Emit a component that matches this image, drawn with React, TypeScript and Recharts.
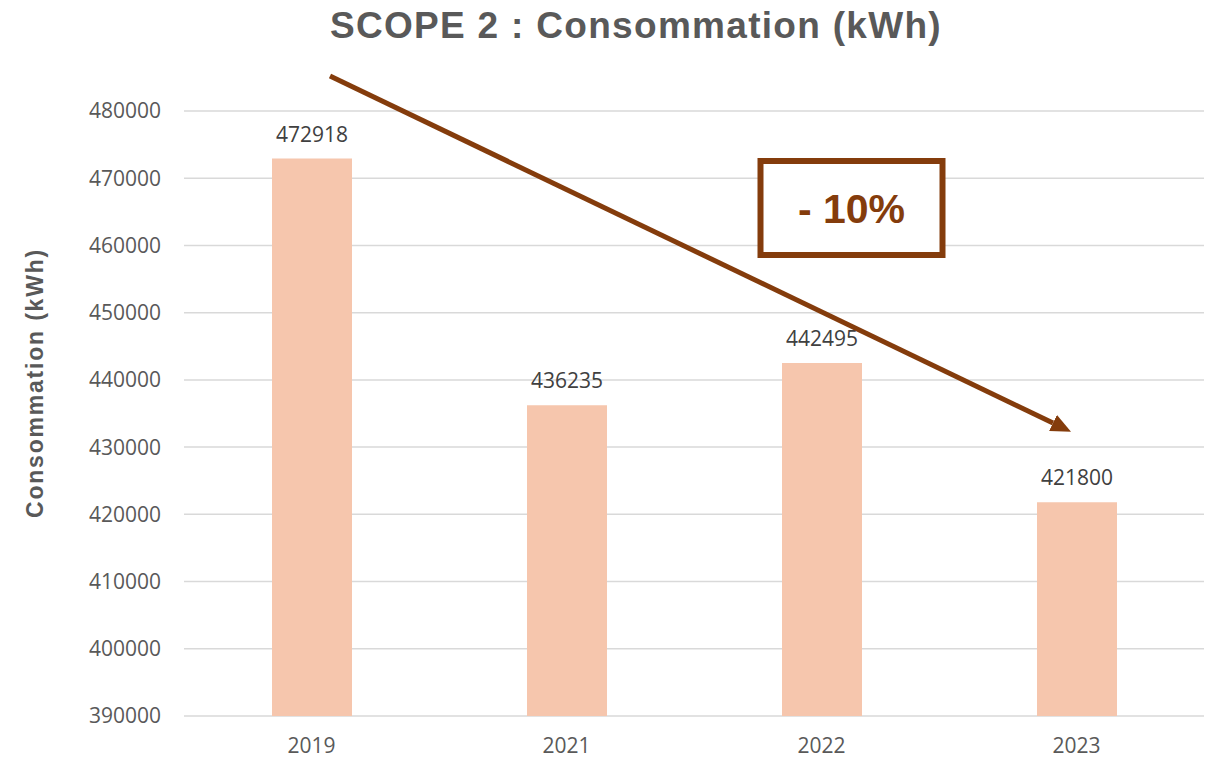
import React from 'react';
import { BarChart, Bar, XAxis, YAxis, CartesianGrid, LabelList } from 'recharts';

const years = ['2019', '2021', '2022', '2023'];
const consumption = [472918, 436235, 442495, 421800];
const yTicks = [390000, 400000, 410000, 420000, 430000, 440000, 450000, 460000, 470000, 480000];

const chartData = years.map((year, i) => ({ year, value: consumption[i] }));

const FONT = '"Open Sans", "Liberation Sans", Arial, sans-serif';
const BOLD_FONT = '"Liberation Sans", Arial, sans-serif';
const BROWN = '#843C0C';

export default function App() {
  return (
    <div style={{ position: 'absolute', left: 0, top: 0, width: 1211, height: 758, background: '#fff', fontFamily: FONT }}>
      <BarChart
        width={1211}
        height={758}
        data={chartData}
        margin={{ top: 111, right: 7, bottom: 0, left: 0 }}
        barSize={80}
      >
        <CartesianGrid vertical={false} stroke="#D9D9D9" strokeWidth={1.5} />
        <XAxis
          dataKey="year"
          height={42}
          axisLine={false}
          tickLine={false}
          tickSize={0}
          tickMargin={22}
          tick={{ fill: '#595959', fontSize: 21, fontFamily: FONT }}
        />
        <YAxis
          width={184}
          domain={[390000, 480000]}
          ticks={yTicks}
          axisLine={false}
          tickLine={false}
          tickSize={0}
          tickMargin={23}
          tick={{ fill: '#595959', fontSize: 21, fontFamily: FONT }}
        />
        <Bar dataKey="value" fill="#F6C6AD" isAnimationActive={false}>
          <LabelList dataKey="value" position="top" offset={17} fill="#404040" fontSize={21} fontFamily={FONT} />
        </Bar>
      </BarChart>

      {/* annotations drawn on top of the chart */}
      <svg width={1211} height={758} style={{ position: 'absolute', left: 0, top: 0, pointerEvents: 'none' }}>
        <defs>
          <marker id="arrowHead" markerWidth="20" markerHeight="18" refX="0" refY="9" orient="auto" markerUnits="userSpaceOnUse">
            <path d="M0,0 L20,9 L0,18 z" fill={BROWN} />
          </marker>
        </defs>
        <text
          x={636}
          y={38}
          textAnchor="middle"
          fontSize={37}
          fontWeight="bold"
          letterSpacing={1.3}
          fill="#595959"
          fontFamily={BOLD_FONT}
        >
          SCOPE 2 : Consommation (kWh)
        </text>
        <text
          x={0}
          y={0}
          transform="translate(43, 383) rotate(-90)"
          textAnchor="middle"
          fontSize={23}
          fontWeight="bold"
          letterSpacing={1.8}
          fill="#595959"
          fontFamily={BOLD_FONT}
        >
          Consommation (kWh)
        </text>
        <line x1={330} y1={76} x2={1053} y2={423} stroke={BROWN} strokeWidth={5} markerEnd="url(#arrowHead)" />
        <rect x={760.5} y={161} width={182} height={94} fill="#fff" stroke={BROWN} strokeWidth={6} />
        <text x={851.5} y={223} textAnchor="middle" fontSize={41} fontWeight="bold" fill={BROWN} fontFamily={BOLD_FONT}>
          - 10%
        </text>
      </svg>
    </div>
  );
}
